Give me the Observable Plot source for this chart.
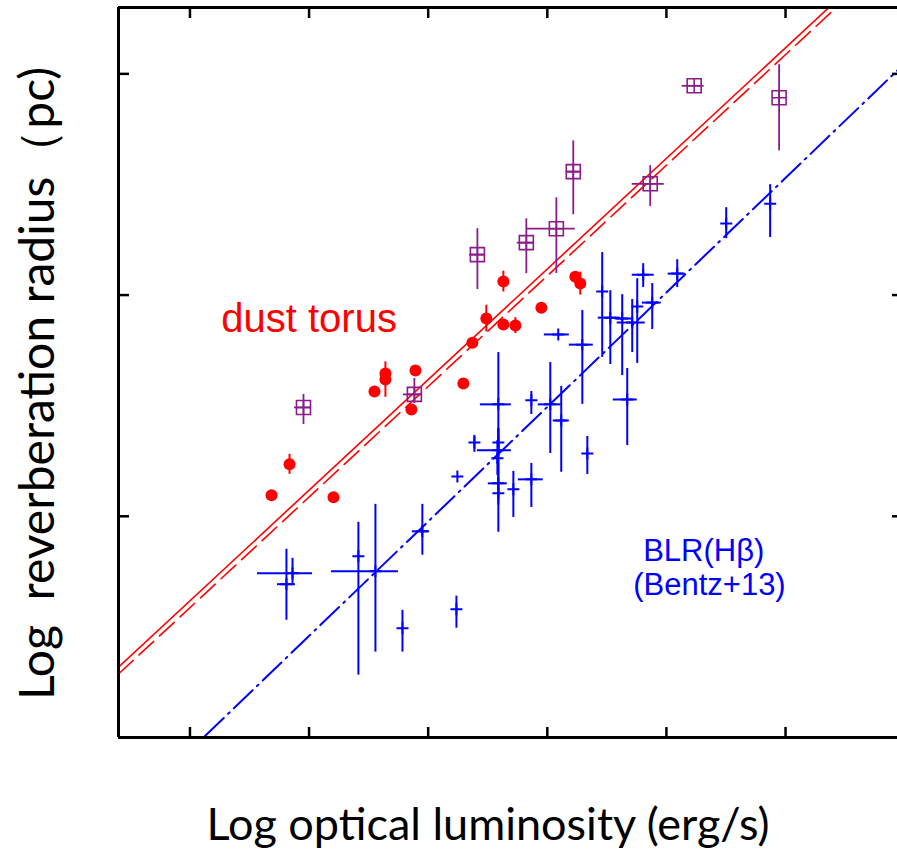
<!DOCTYPE html>
<html><head><meta charset="utf-8">
<script src="https://cdn.jsdelivr.net/npm/d3@7"></script>
<script src="https://cdn.jsdelivr.net/npm/@observablehq/plot@0.6"></script>
<style>html,body{margin:0;padding:0;background:#fff;} #chart svg{display:block;}</style>
</head><body><div id="chart"></div>
<script>
// ---- axis ticks (log L in erg/s, log R in pc) ----
const xTicks = [41, 42, 43, 44, 45, 46];
const yTicks = [0, -1, -2];

// ---- dust torus reverberation (red filled circles) ----
const torusL = [41.685, 41.836, 42.205, 42.549, 42.641, 42.641, 42.893, 42.859, 43.295, 43.371, 43.488, 43.631, 43.732, 43.631, 43.950, 44.235, 44.277];
const torusR = [-1.905, -1.765, -1.914, -1.436, -1.354, -1.382, -1.341, -1.517, -1.400, -1.215, -1.106, -1.133, -1.138, -0.939, -1.057, -0.917, -0.948];
const torusRerr = [0, 0.045, 0, 0, 0, 0.08, 0, 0, 0, 0, 0.06, 0, 0.036, 0.047, 0, 0, 0.052];

// ---- other dust lags (purple boxed crosses) ----
const purpL   = [41.953, 42.884, 43.413, 43.824, 44.076, 44.218, 44.864, 45.233, 45.946];
const purpR   = [-1.508, -1.449, -0.817, -0.763, -0.700, -0.442, -0.497, -0.054, -0.108];
const purpLlo = [41.878, 42.792, 43.346, 43.748, 43.824, 44.159, 44.713, 45.132, 45.946];
const purpLhi = [42.020, 42.935, 43.471, 43.883, 44.235, 44.285, 44.982, 45.317, 45.946];
const purpRlo = [-1.585, -1.490, -0.975, -0.903, -0.903, -0.637, -0.600, -0.054, -0.348];
const purpRhi = [-1.449, -1.377, -0.700, -0.655, -0.560, -0.303, -0.415, -0.054, 0.041];

// ---- BLR H-beta (Bentz+13, blue crosses) ----
const blrL   = [41.861, 41.810, 42.414, 42.557, 42.784, 43.237, 42.951, 43.245, 43.388, 43.589, 43.589, 43.589, 43.581, 43.589, 43.589, 43.715, 43.866, 43.866, 44.025, 44.117, 44.294, 44.336, 44.092, 44.671, 44.461, 44.529, 44.629, 44.713, 44.755, 44.805, 44.881, 45.091, 45.502, 45.871];
const blrR   = [-2.258, -2.307, -2.181, -2.248, -2.506, -2.420, -2.068, -1.820, -1.666, -1.494, -1.702, -1.666, -1.738, -1.851, -1.896, -1.878, -1.833, -1.476, -1.494, -1.567, -1.224, -1.716, -1.178, -1.472, -0.984, -1.102, -1.106, -1.124, -1.052, -0.908, -1.034, -0.903, -0.677, -0.587];
const blrLlo = [41.567, 41.735, null, 42.188, null, null, 42.867, null, null, 43.438, 43.413, null, null, 43.505, null, null, 43.757, null, 43.924, 44.050, 44.185, null, 43.975, 44.554, null, 44.428, 44.570, 44.587, null, 44.713, 44.797, 45.015, null, null];
const blrLhi = [42.029, 41.886, null, 42.750, null, null, 43.010, null, null, 43.698, 43.698, null, null, 43.664, null, null, 43.966, null, 44.117, 44.185, 44.386, null, 44.185, 44.755, null, 44.612, 44.713, 44.822, null, 44.898, 44.956, 45.158, null, null];
const blrRlo = [-2.312, -2.470, -2.718, -2.614, -2.614, -2.506, -2.176, null, -1.711, -1.702, -1.792, -1.738, -1.815, -1.950, -2.072, -2.005, -1.960, -1.540, -1.716, -1.801, -1.494, -1.811, null, -1.680, -1.282, -1.314, -1.364, -1.260, -1.309, -0.966, -1.156, -0.966, -0.745, -0.740];
const blrRhi = [-2.190, -2.149, -2.027, -1.946, -2.425, -2.361, -1.946, null, -1.634, -1.260, -1.603, -1.603, -1.657, -1.747, -1.792, -1.797, -1.761, -1.436, -1.305, -1.413, -1.070, -1.639, null, -1.332, -0.808, -0.980, -0.998, -1.020, -0.926, -0.858, -0.948, -0.840, -0.605, -0.501];

// ---- fitted relations (end points) ----
const fitX = [40.4, 46.94];
const torusFitY = [-2.682, 0.588];
const torusFit2Y = [-2.713, 0.557];
const blrFitY = [-3.369, 0.016];

// ---- labels ----
const xTitle = "Log optical luminosity (erg/s)";
const yTitle = "Log  reverberation radius\uFF08pc)";
const torusNote = [{text: "dust torus", x: 42.0, y: -1.11}];
const blrNotes = [
  {text: "BLR(H\u03B2)", x: 44.805, y: -2.158},
  {text: "(Bentz+13)", x: 44.721, y: -2.312}
];

// ---- build tables ----
const torus = torusL.map((x, i) => ({x, y: torusR[i], lo: torusR[i] - torusRerr[i], hi: torusR[i] + torusRerr[i]}));
const purp = purpL.map((x, i) => ({x, y: purpR[i], xlo: purpLlo[i], xhi: purpLhi[i], ylo: purpRlo[i], yhi: purpRhi[i]}));
const blr = blrL.map((x, i) => ({x, y: blrR[i], xlo: blrLlo[i], xhi: blrLhi[i], ylo: blrRlo[i], yhi: blrRhi[i]}));
const fitTorus = fitX.map((x, i) => ({x, y: torusFitY[i]}));
const fitTorus2 = fitX.map((x, i) => ({x, y: torusFit2Y[i]}));
const fitBlr = fitX.map((x, i) => ({x, y: blrFitY[i]}));

const plusSym = {draw(ctx, size) {const r = Math.sqrt(size / Math.PI); ctx.moveTo(-r, 0); ctx.lineTo(r, 0); ctx.moveTo(0, -r); ctx.lineTo(0, r);}};
const boxSym = {draw(ctx, size) {const r = Math.sqrt(size / Math.PI); ctx.moveTo(-r, -r); ctx.lineTo(r, -r); ctx.lineTo(r, r); ctx.lineTo(-r, r); ctx.closePath(); ctx.moveTo(-r, 0); ctx.lineTo(r, 0); ctx.moveTo(0, -r); ctx.lineTo(0, r);}};

const W = 897, H = 850, mL = 118, mR = 0, mT = 7, mB = 113;
const fw = W - mL - mR, fh = H - mT - mB;
const purple = "#8a1c8a";

const chart = Plot.plot({
  width: W, height: H,
  marginLeft: mL, marginRight: mR, marginTop: mT, marginBottom: mB,
  x: {domain: [40.4, 46.94], axis: null},
  y: {domain: [-3, 0.3], axis: null},
  style: {background: "#fff", overflow: "visible"},
  marks: [
    // fits
    Plot.line(fitTorus, {x: "x", y: "y", stroke: "#ff0000", strokeWidth: 1.6, clip: true}),
    Plot.line(fitTorus2, {x: "x", y: "y", stroke: "#ff0000", strokeWidth: 1.6, strokeDasharray: "20,8", clip: true}),
    Plot.line(fitBlr, {x: "x", y: "y", stroke: "#0000ff", strokeWidth: 2, strokeDasharray: "26,6,2,6", clip: true}),
    // BLR
    Plot.ruleY(blr, {y: "y", x1: "xlo", x2: "xhi", stroke: "#0000ff", strokeWidth: 2}),
    Plot.ruleX(blr, {x: "x", y1: "ylo", y2: "yhi", stroke: "#0000ff", strokeWidth: 2}),
    Plot.dot(blr, {x: "x", y: "y", r: 6, symbol: plusSym, stroke: "#0000ff", strokeWidth: 2, fill: "none"}),
    // purple
    Plot.ruleY(purp, {y: "y", x1: "xlo", x2: "xhi", stroke: purple, strokeWidth: 1.8}),
    Plot.ruleX(purp, {x: "x", y1: "ylo", y2: "yhi", stroke: purple, strokeWidth: 1.8}),
    Plot.dot(purp, {x: "x", y: "y", r: 7, symbol: boxSym, stroke: purple, strokeWidth: 1.6, fill: "none"}),
    // dust torus
    Plot.ruleX(torus.filter(d => d.hi > d.lo), {x: "x", y1: "lo", y2: "hi", stroke: "#ff0000", strokeWidth: 2}),
    Plot.dot(torus, {x: "x", y: "y", r: 6, fill: "#ff0000", stroke: "none"}),
    // annotations
    Plot.text(torusNote, {x: "x", y: "y", text: "text", fill: "#ff0000", fontSize: 40, textAnchor: "middle", fontFamily: "Liberation Sans, Arial, sans-serif"}),
    Plot.text(blrNotes, {x: "x", y: "y", text: "text", fill: "#0000ff", fontSize: 31, textAnchor: "start", fontFamily: "Liberation Sans, Arial, sans-serif"}),
    // axes frame (left, bottom, top)
    Plot.ruleX([40.4], {stroke: "#000", strokeWidth: 3}),
    Plot.ruleY([-3], {stroke: "#000", strokeWidth: 3}),
    Plot.ruleY([0.3], {stroke: "#000", strokeWidth: 3}),
    // inward ticks
    Plot.ruleX(xTicks, {x: d => d, insetTop: fh - 10, stroke: "#000", strokeWidth: 2.5}),
    Plot.ruleX(xTicks, {x: d => d, insetBottom: fh - 11, stroke: "#000", strokeWidth: 2.5}),
    Plot.ruleY(yTicks, {y: d => d, insetRight: fw - 11, stroke: "#000", strokeWidth: 2.5}),
    Plot.ruleY(yTicks, {y: d => d, insetLeft: fw - 5, stroke: "#000", strokeWidth: 2.5}),
    // axis titles
    Plot.text([xTitle], {frameAnchor: "bottom", textAnchor: "middle", lineAnchor: "middle", dx: -20, dy: 88, text: d => d, fontSize: 45, fill: "#000", fontFamily: "Lato, sans-serif"}),
    Plot.text([yTitle], {frameAnchor: "left", textAnchor: "middle", lineAnchor: "middle", dx: -80, dy: 11, rotate: -90, text: d => d, fontSize: 48, fill: "#000", fontFamily: "Lato, sans-serif"})
  ]
});
document.getElementById("chart").appendChild(chart);
</script>
</body></html>
